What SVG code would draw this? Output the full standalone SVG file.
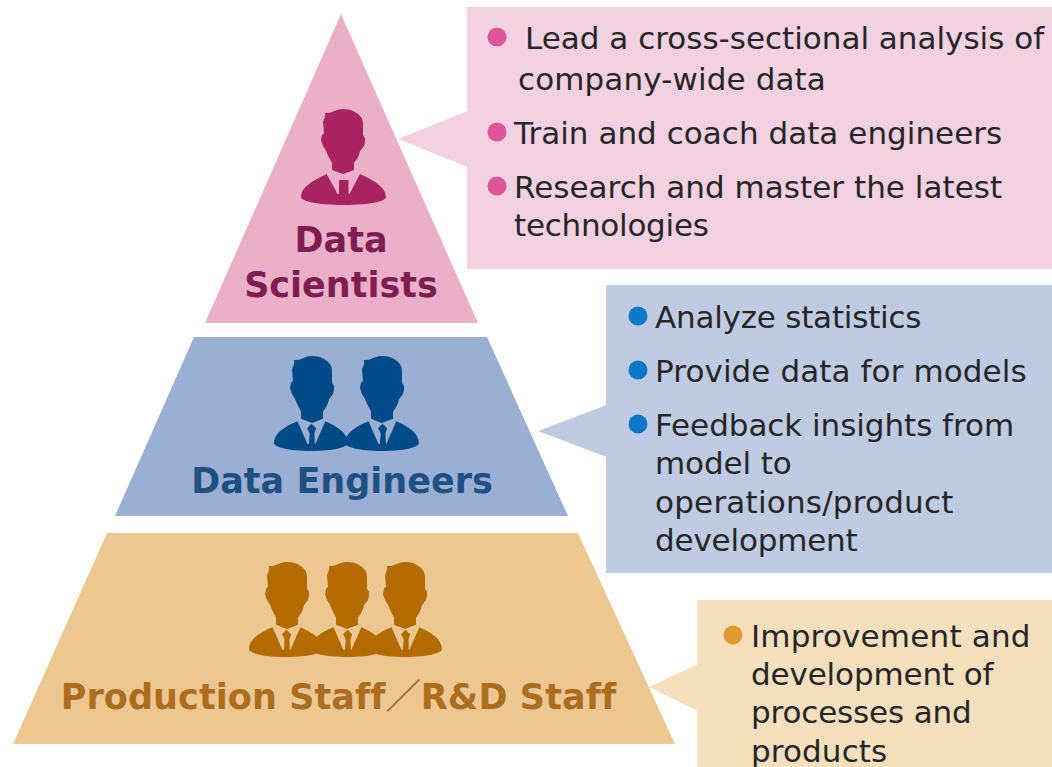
<svg xmlns="http://www.w3.org/2000/svg" width="1052" height="767" viewBox="0 0 1052 767">
<style>
.t{font-family:"DejaVu Sans",Verdana,sans-serif;font-size:31px;fill:#262626}
.h{font-family:"DejaVu Sans",Verdana,sans-serif;font-size:35px;font-weight:bold;text-anchor:middle}
.s{font-family:"Noto Sans CJK JP","DejaVu Sans",sans-serif}
</style>
<defs>
<path id="head" d="M24 4 L29 3.700 C33 2 38 0 42 0 C47 0 51 1 54 3 C59 6 62 9 62 15 L62 26 L64 29 C64 32 64 34 63 37 L59 42 C58 47 56 50 53 54 L53 61 L42 65 L31 61 L31 54 C29 50 27 47 26 44 C25 41 23 39 22 37 L20 31 L21 26 L23 24 L22 13 C23 10 25 7 24 4Z"/>
<path id="suit" d="M25.700 65 L36.500 85 L48.500 85 L59 65 C72 71 85 78 85 88 C85 92 70 96 43 96 C16 96 0 92 0 88 C0 78 13 71 25.700 65Z"/>
<rect id="tie" x="38" y="71" width="9.500" height="16"/>
<path id="suit2" d="M27 66 L38.500 89 L47.500 89 L59 66 C72 71 85 78 85 88 C85 92 70 96 43 96 C16 96 0 92 0 88 C0 78 13 71 27 66Z"/>
<path id="tie2" d="M43 68.500 L48.500 73 L46.500 78 L47 90 L40 90 L41 78 L38 73Z"/>
<g id="body2"><use href="#suit2"/><use href="#tie2"/></g>
</defs>

<g id="connectors">
<polygon points="398,139 470,110 470,168" fill="#F4D1E0"/>
<polygon points="538,431 609,404 609,458" fill="#BFCBE3"/>
<polygon points="649,687 700,663 700,712" fill="#F5DFBD"/>
</g>

<g id="node-scientists">
<polygon points="341,14 478,323 205,323" fill="#ECAFC8"/>
<g fill="#A8235F">
<use href="#head" x="301" y="109"/>
<use href="#suit" x="301" y="109"/>
<use href="#tie" x="301" y="109"/>
</g>
<text class="h" x="341" y="252" fill="#7F1C50">Data</text>
<text class="h" x="341" y="297" fill="#7F1C50">Scientists</text>
</g>

<g id="node-engineers">
<polygon points="194,337 487,337 568,516 115,516" fill="#9BAFD4"/>
<g fill="#004A87">
<use href="#head" transform="translate(270,356) scale(1,1.030)"/>
<use href="#body2" transform="translate(274,356) scale(.87,.99)"/>
<use href="#head" transform="translate(340,356) scale(1,1.030)"/>
<use href="#body2" transform="translate(345,356) scale(.87,.99)"/>
</g>
<text class="h" x="342" y="493" fill="#1F5082">Data Engineers</text>
</g>

<g id="node-staff">
<polygon points="107,533 578,533 675,744 13,744" fill="#ECC792"/>
<g fill="#B36B00">
<use href="#head" transform="translate(245,562) scale(1,1.030)"/>
<use href="#body2" transform="translate(249,562) scale(.87,.99)"/>
<use href="#head" transform="translate(305,562) scale(1,1.030)"/>
<use href="#body2" transform="translate(310,562) scale(.87,.99)"/>
<use href="#head" transform="translate(363,562) scale(1,1.030)"/>
<use href="#body2" transform="translate(368,562) scale(.87,.99)"/>
</g>
<text class="h" x="338.500" y="709" fill="#AC6D1F" letter-spacing=".09">Production Staff<tspan class="s">／</tspan>R&amp;D Staff</text>
</g>

<g id="node-scientists-notes">
<rect x="467" y="7" width="585" height="262" fill="#F4D1E0"/>
<circle cx="497" cy="37" r="9.500" fill="#E0559A"/>
<circle cx="497" cy="132" r="9.500" fill="#E0559A"/>
<circle cx="497" cy="186" r="9.500" fill="#E0559A"/>
<text class="t" x="525" y="49">Lead a cross-sectional analysis of</text>
<text class="t" x="518" y="90" letter-spacing=".12">company-wide data</text>
<text class="t" x="514" y="144" letter-spacing=".03">Train and coach data engineers</text>
<text class="t" x="514" y="198" letter-spacing=".03">Research and master the latest</text>
<text class="t" x="514" y="236" letter-spacing="-.25">technologies</text>
</g>

<g id="node-engineers-notes">
<rect x="606" y="285" width="446" height="288" fill="#BFCBE3"/>
<circle cx="638" cy="316" r="9.500" fill="#0D78C8"/>
<circle cx="638" cy="370" r="9.500" fill="#0D78C8"/>
<circle cx="638" cy="424" r="9.500" fill="#0D78C8"/>
<text class="t" x="655" y="328" letter-spacing="-.22">Analyze statistics</text>
<text class="t" x="655" y="382" letter-spacing=".09">Provide data for models</text>
<text class="t" x="655" y="436" letter-spacing="-.05">Feedback insights from</text>
<text class="t" x="655" y="474" letter-spacing="-.12">model to</text>
<text class="t" x="655" y="513" letter-spacing=".22">operations/product</text>
<text class="t" x="655" y="551" letter-spacing="-.18">development</text>
</g>

<g id="node-staff-notes">
<rect x="697" y="600" width="355" height="167" fill="#F5DFBD"/>
<circle cx="733" cy="635" r="9.500" fill="#E09A2F"/>
<text class="t" x="751" y="647" letter-spacing=".2">Improvement and</text>
<text class="t" x="751" y="685" letter-spacing="-.14">development of</text>
<text class="t" x="751" y="723" letter-spacing="-.15">processes and</text>
<text class="t" x="751" y="762" letter-spacing=".12">products</text>
</g>
</svg>
